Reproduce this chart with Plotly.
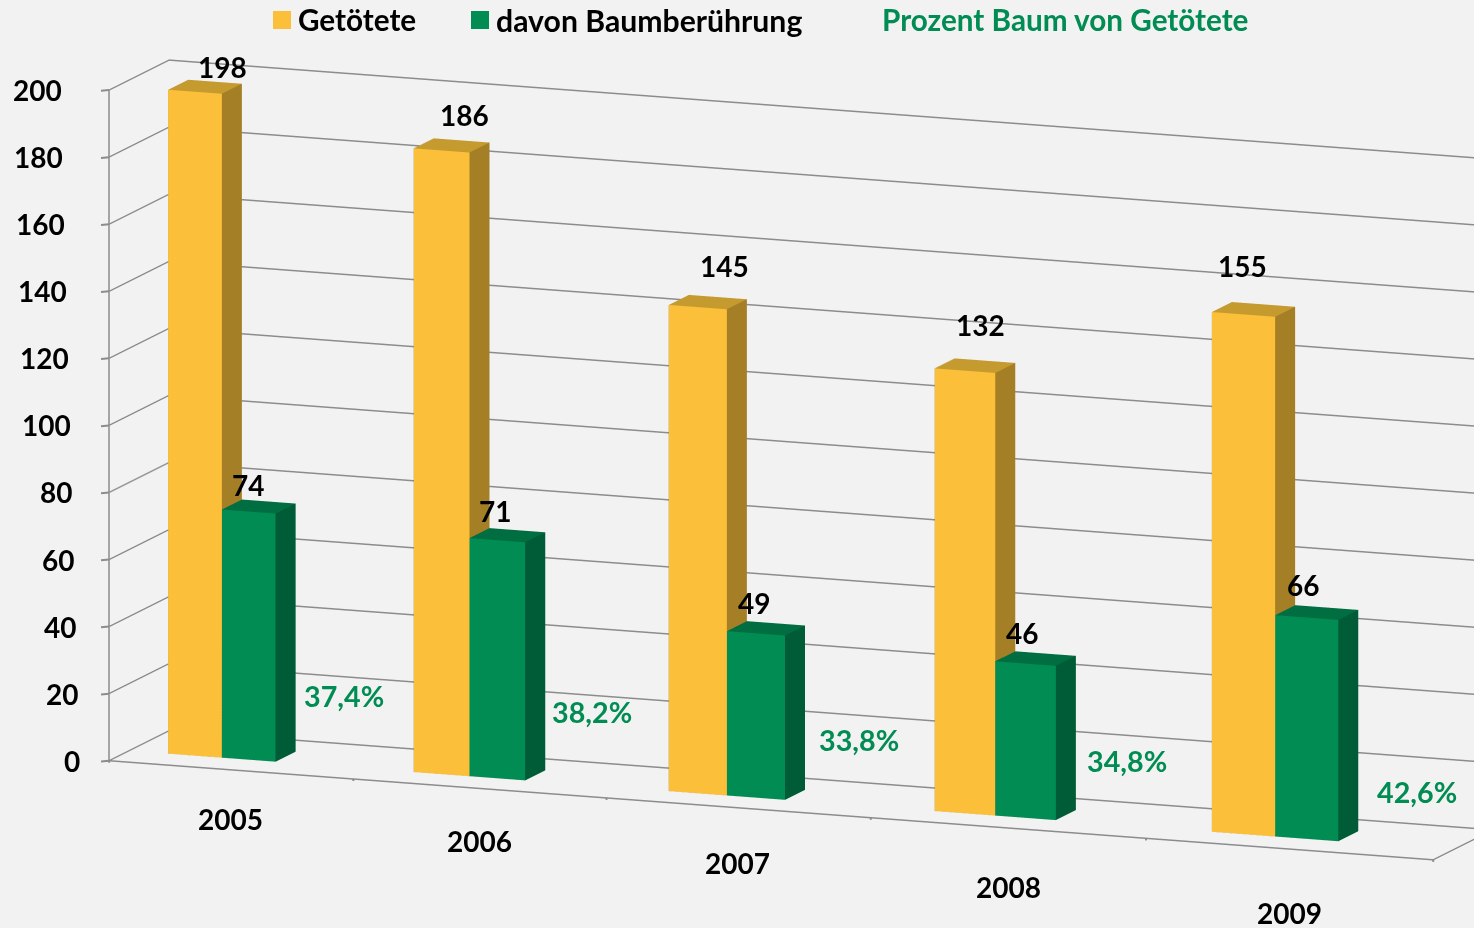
import plotly.graph_objects as go

years = ["2005", "2006", "2007", "2008", "2009"]
getoetete = [198, 186, 145, 132, 155]
baum = [74, 71, 49, 46, 66]
prozent = ["37,4%", "38,2%", "33,8%", "34,8%", "42,6%"]
z_ticks = [0, 20, 40, 60, 80, 100, 120, 140, 160, 180, 200]

# layout of the category cells (widening cells stand in for perspective)
edges = [0, 244, 497, 761, 1036, 1323]
BG = "#f2f2f2"
FONT = "Lato"
GREY = "#8c8c8c"
EYE_DIR = (0.3541, -0.9150, 0.1934)
L = 5.0
CENTER = (-0.1280, -0.0522, -0.0127 + 2 / 463)
ZOOM = 3.06

# label nudges in pixels, per category
top_dx = [-2, -7, -3, -15, -31]
top_dy = [-10, 0, 6, 11, 13]
low_dx = [-1, -2, -2, -4, -4]
low_dy = [-8, -6, -5, -4, -2]
pct_dx = [3, -2, 2, -5, -2]
pct_dy = [-2, 1, -7, -8, -17]
year_dx = [2, 2, 2, 3, 3]
year_dy = [4, 0, -2, -6, -11]


def box(x0, x1, y0, y1, z1, front, side, top):
    xs = [x0, x1, x1, x0, x0, x1, x1, x0]
    ys = [y0, y0, y1, y1, y0, y0, y1, y1]
    zs = [0, 0, 0, 0, z1, z1, z1, z1]
    tri = [
        (0, 1, 5, front), (0, 5, 4, front),
        (1, 2, 6, side), (1, 6, 5, side),
        (4, 5, 6, top), (4, 6, 7, top),
        (2, 3, 7, side), (2, 7, 6, side),
        (3, 0, 4, side), (3, 4, 7, side),
        (0, 2, 1, side), (0, 3, 2, side),
    ]
    return xs, ys, zs, tri


def series(name, values, f0, f1, front, side, top):
    X, Y, Z, I, J, K, C = [], [], [], [], [], [], []
    for n, v in enumerate(values):
        w = edges[n + 1] - edges[n]
        xs, ys, zs, tri = box(edges[n] + f0 * w, edges[n] + f1 * w, 1 / 3, 2 / 3, v, front, side, top)
        base = len(X)
        X += xs
        Y += ys
        Z += zs
        for a, b, c, col in tri:
            I.append(base + a)
            J.append(base + b)
            K.append(base + c)
            C.append(col)
    return go.Mesh3d(x=X, y=Y, z=Z, i=I, j=J, k=K, facecolor=C, flatshading=True, name=name,
                     hoverinfo="skip",
                     lighting=dict(ambient=1, diffuse=0, specular=0, fresnel=0, roughness=1))


fig = go.Figure()
fig.add_trace(series("Getötete", getoetete, 0.16, 0.38, "#FBBF39", "#A57F26", "#C59A2F"))
fig.add_trace(series("davon Baumberührung", baum, 0.38, 0.60, "#008C53", "#005C36", "#006E41"))

ann = []
bold = dict(family=FONT, size=28, color="#000000", weight="bold")
green = dict(family=FONT, size=28.7, color="#008C53", weight="bold")
legend_bold = dict(family=FONT, size=29.7, color="#000000", weight="bold")
legend_wide = dict(family=FONT, size=30.2, color="#000000", weight="bold")
legend_green = dict(family=FONT, size=29.7, color="#008C53", weight="bold")
tick_arrow = dict(text=" ", showarrow=True, arrowhead=0, arrowwidth=2, arrowcolor=GREY, standoff=0, startstandoff=0)
for n, y in enumerate(years):
    w = edges[n + 1] - edges[n]
    ann.append(dict(x=edges[n] + 0.27 * w, y=0.5, z=getoetete[n], text=str(getoetete[n]), showarrow=False, font=bold,
                    yshift=28 + top_dy[n] + 2, xshift=20 + top_dx[n]))
    ann.append(dict(x=edges[n] + 0.49 * w, y=0.5, z=baum[n], text=str(baum[n]), showarrow=False, font=bold,
                    yshift=28 + low_dy[n] + 2, xshift=-10 + low_dx[n]))
    ann.append(dict(x=edges[n] + 0.95 * w, y=0, z=25, text=prozent[n], showarrow=False, font=green,
                    yshift=pct_dy[n], xshift=pct_dx[n]))
    ann.append(dict(x=edges[n] + 0.49 * w, y=0, z=0, text=y, showarrow=False, font=bold,
                    yshift=-53 + year_dy[n], xshift=year_dx[n]))
for e in edges:
    ann.append(dict(tick_arrow, x=e, y=0, z=0, ax=1, ay=12))
for t in z_ticks:
    ann.append(dict(x=0, y=0, z=t, text=str(t), showarrow=False, font=bold, xanchor="right",
                    xshift=-27.5 - 18 * t / 200))
    ann.append(dict(tick_arrow, x=0, y=0, z=t, ax=-11, ay=1))

axis_off = dict(showbackground=False, showspikes=False, title="", showticklabels=False, zeroline=False)
fig.update_layout(
    width=1474, height=928, autosize=False,
    margin=dict(l=0, r=0, t=0, b=0),
    paper_bgcolor=BG, showlegend=False,
    scene=dict(
        bgcolor=BG,
        domain=dict(x=[0, 1], y=[0, 1]),
        aspectmode="manual",
        aspectratio=dict(x=1 * ZOOM, y=0.1172 * ZOOM, z=0.4814 * ZOOM),
        camera=dict(projection=dict(type="orthographic"),
                    eye=dict(x=EYE_DIR[0] * L + CENTER[0], y=EYE_DIR[1] * L + CENTER[1], z=EYE_DIR[2] * L + CENTER[2]),
                    center=dict(x=CENTER[0], y=CENTER[1], z=CENTER[2]),
                    up=dict(x=0, y=0, z=1)),
        xaxis=dict(axis_off, range=[0, edges[-1]], tickvals=[], showgrid=False, showline=True, linecolor=GREY, linewidth=3, mirror=True),
        yaxis=dict(axis_off, range=[0, 1], showgrid=False, showline=True, linecolor=GREY, linewidth=3, mirror=True, tickvals=[]),
        zaxis=dict(axis_off, range=[0, 200], tickvals=z_ticks, showgrid=True, gridcolor=GREY, gridwidth=3, showline=True, linecolor=GREY, linewidth=3),
        annotations=ann,
    ),
    shapes=[
        dict(type="rect", xref="paper", yref="paper", x0=273 / 1474, x1=291 / 1474, y0=1 - 29 / 928, y1=1 - 11 / 928, fillcolor="#FBBF39", line_width=0),
        dict(type="rect", xref="paper", yref="paper", x0=471 / 1474, x1=489 / 1474, y0=1 - 29 / 928, y1=1 - 11 / 928, fillcolor="#008C53", line_width=0),
    ],
    annotations=[
        dict(xref="paper", yref="paper", x=296 / 1474, y=1 - 19.5 / 928, xanchor="left", yanchor="middle", text="Getötete", showarrow=False, font=legend_bold),
        dict(xref="paper", yref="paper", x=494 / 1474, y=1 - 19.5 / 928, xanchor="left", yanchor="middle", text="davon Baumberührung", showarrow=False, font=legend_wide),
        dict(xref="paper", yref="paper", x=880 / 1474, y=1 - 19.5 / 928, xanchor="left", yanchor="middle", text="Prozent Baum von Getötete", showarrow=False, font=legend_green),
    ],
)
fig.write_html("out.html", config=dict(displayModeBar=False),
               post_script="document.body.style.margin='0';document.body.style.background='#f2f2f2';")
